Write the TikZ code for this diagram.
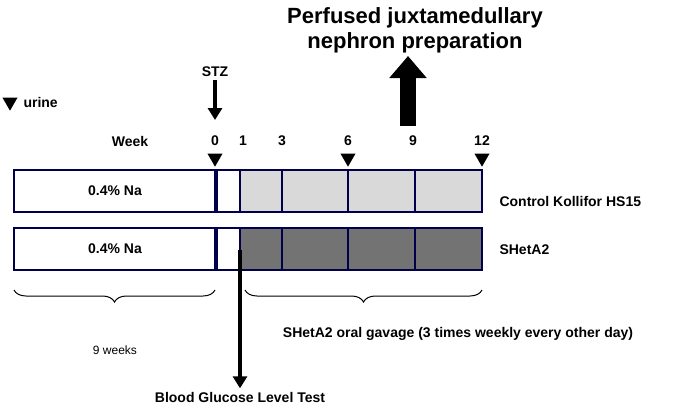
\documentclass[tikz,border=0pt]{standalone}
\usepackage{fontspec}
\setmainfont{Liberation Sans}
\usetikzlibrary{arrows.meta,decorations.pathreplacing,shapes.geometric}
\tikzset{
  lbl/.style={font=\fontsize{14}{16}\selectfont\bfseries},
  seg/.style={draw=black!70!blue,line width=1.5pt},
  tri/.style={fill=black,isosceles triangle,shape border rotate=-90,isosceles triangle apex angle=60,inner sep=0pt,minimum width=15pt,minimum height=13pt},
  brc/.style={decorate,decoration={brace,mirror,amplitude=12pt},line width=1pt},
  bigarrow/.style={-{Triangle[length=12pt,width=14pt]},line width=4pt}
}
\begin{document}
\begin{tikzpicture}[x=1pt,y=-1pt]
\useasboundingbox (0,0) rectangle (699,407);
% title
\node[font=\fontsize{22}{25}\selectfont\bfseries,align=center] (title) at (415,30) {Perfused juxtamedullary\\nephron preparation};
\draw[-{Triangle[length=22pt,width=36pt]},line width=16pt] (408,126) -- (408,56);
% legend
\node[tri] (urtri) at (10,102) {};
\node[lbl,anchor=west] (urine) at (20,102) {urine};
% STZ
\node[lbl] (stz) at (215,72) {STZ};
\coordinate (stzend) at (215,120);
\draw[bigarrow] (stz.south) -- (stzend);
% weeks
\node[lbl] (week) at (130,141) {Week};
\foreach \x/\w in {215/0,243/1,282/3,348/6,413/9,482/12}
  \node[lbl] (w\w) at (\x,141) {\w};
\foreach \x in {215,348,482}
  \node[tri] at (\x,158) {};
% bars
\foreach \y/\c in {170/black!15,228/black!55}{
  \draw[seg] (14,\y) rectangle (215,\y+42);
  \draw[seg] (217,\y) rectangle (240,\y+42);
  \foreach \a/\b in {240/282,282/348,348/415,415/482}
    \draw[seg,fill=\c] (\a,\y) rectangle (\b,\y+42);
  \node[lbl] at (115,\y+21) {0.4\%  Na};
}
\node[lbl,anchor=west] (ctl) at (496,201) {Control Kollifor HS15};
\node[lbl,anchor=west] (she) at (496,250) {SHetA2};
% braces
\draw[brc] (14,290) -- (215,290);
\draw[brc] (245,290) -- (482,290);
\node[font=\fontsize{12}{14}\selectfont] (nine) at (115,350) {9 weeks};
\node[lbl] (gav) at (458,334) {SHetA2 oral gavage (3 times weekly every other day)};
% glucose
\node[lbl] (bg) at (240,397) {Blood Glucose Level Test};
\coordinate (bgstart) at (240,250);
\draw[bigarrow] (bgstart) -- (bg.north);
\end{tikzpicture}
\end{document}
